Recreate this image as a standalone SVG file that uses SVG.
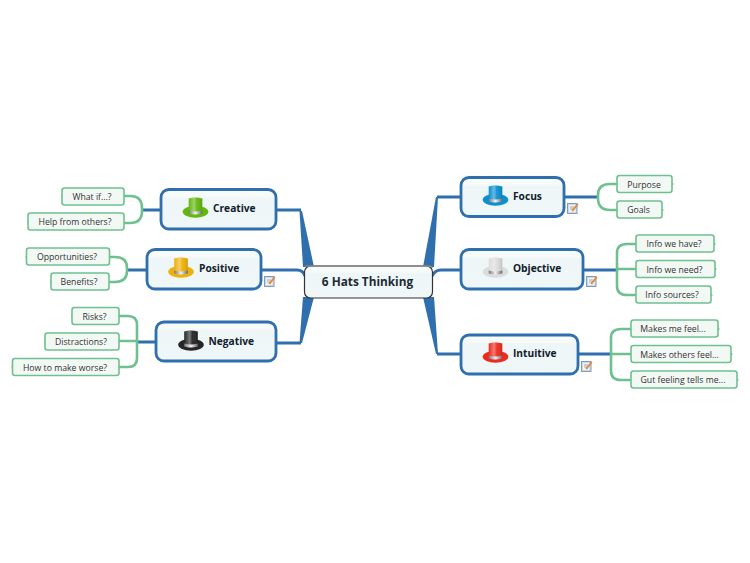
<svg xmlns="http://www.w3.org/2000/svg" width="750" height="563" viewBox="0 0 750 563">
<style>
text{font-family:"Open Sans","Noto Sans","DejaVu Sans",sans-serif;text-anchor:middle}
.leaf rect{fill:#f2f8f4;stroke:#6fc08f;stroke-width:1.6}
.leaf text{font-size:8.7px;fill:#333}
.topic>rect{fill:url(#bg);stroke:#2f6fad;stroke-width:2.8}
.topic text{font-size:10.2px;font-weight:700;fill:#10202c;text-anchor:start}
.blue{fill:none;stroke:#2f6fad;stroke-width:3}
.green{fill:none;stroke:#6fc08f;stroke-width:2.6}
.tick{fill:none;stroke:#6fc08f;stroke-width:1.4}
.wedge{fill:#2f6fad}
</style>
<defs>
<linearGradient id="bg" x1="0" y1="0" x2="0" y2="1"><stop offset="0" stop-color="#f8fbfa"/><stop offset="0.2" stop-color="#f5faf8"/><stop offset="0.22" stop-color="#eef6f7"/><stop offset="1" stop-color="#eff7f8"/></linearGradient>
<linearGradient id="band" x1="0" y1="0" x2="1" y2="0"><stop offset="0" stop-color="#777"/><stop offset="0.5" stop-color="#f2f2f2"/><stop offset="1" stop-color="#666"/></linearGradient>
<linearGradient id="shine" x1="0" y1="0" x2="1" y2="0"><stop offset="0" stop-color="#fff" stop-opacity="0"/><stop offset="0.4" stop-color="#fff" stop-opacity=".38"/><stop offset="0.6" stop-color="#fff" stop-opacity=".05"/><stop offset="1" stop-color="#000" stop-opacity=".12"/></linearGradient>
<g id="hatshape">
<ellipse cx="0" cy="3.8" rx="12.8" ry="6"/>
<path d="M-6.8 -9.5Q0 -11.5 6.8 -9.5V5.5Q0 7.5 -6.8 5.5Z"/>
<path d="M-6.8 -9.5Q0 -11.5 6.8 -9.5V5.5Q0 7.5 -6.8 5.5Z" fill="url(#shine)"/>
<path d="M-6.8 2.5Q0 4.5 6.8 2.5V5.5Q0 7.5 -6.8 5.5Z" fill="url(#band)"/>
</g>
<g id="note">
<rect x="0.5" y="1.5" width="9.500" height="10" fill="#c9d9ec" stroke="#7f9cc0"/>
<rect x="2" y="3" width="6.500" height="7" fill="#f3f3f0"/>
<path d="M3 5H7M3 7H6" stroke="#8a8a8a" stroke-width=".7"/>
<path d="M4.500 8.500L10 1.500L11.500 2.500L6 9.500Z" fill="#e0883a"/>
</g>
</defs>
<g id="connectors">
<path class="wedge" d="M299.500 211H302L314 267H303Z"/>
<path class="wedge" d="M299.500 343H302L314 297H303Z"/>
<path class="wedge" d="M434 267H423L436 197H438Z"/>
<path class="wedge" d="M434 297H423L436 354H438Z"/>
<path class="blue" d="M276 210H301M261 270H297Q303 270 305 276M276 343H301M564 197H437M583 270H441Q435 270 432 276M578 354H437"/>
<path class="blue" d="M141 210H161M128 270H147M136 342H156M564 197H598M583 270H618M578 354H612"/>
<path class="green" d="M124 196H130Q142 196 142 208V211Q142 223 130 223H124"/>
<path class="green" d="M109 257H115Q127 257 127 268V271Q127 282 115 282H109"/>
<path class="green" d="M119 316H128Q137 316 137 325V358Q137 367 128 367H119M119 341H137"/>
<path class="green" d="M617 184H610Q598 184 598 195V198Q598 210 610 210H617"/>
<path class="green" d="M636 244H627Q617 244 617 253V286Q617 295 627 295H636M617 269H636"/>
<path class="green" d="M631 329H621Q611 329 611 338V371Q611 380 621 380H631M611 354H631"/>
<path class="tick" d="M61 196.500H62M27 222H28M25.500 257H26.500M50 282H51M71 316H72M44 342H45M11.500 367H12.500M672 184H673.500M662 210H663.500M714 244H715.500M715 269H716.500M711 295H712.500M718 329H719.500M731 354H732.500M737 380H738.500"/>
</g>
<g id="root"><rect x="304.500" y="266" width="128" height="32" rx="6" fill="url(#bg)" stroke="#333" stroke-width="1.2"/><path d="M305 266.500Q305 266 310 266H427Q432 266 432 268" fill="none" stroke="#8c8c8c" stroke-width="1.5"/><text x="367.500" y="285.500" style="font-size:11.8px;font-weight:700;fill:#1c2a33">6 Hats Thinking</text></g>
<g id="creative" class="topic"><rect x="161" y="189.500" width="115" height="39.500" rx="8"/><use href="#hatshape" x="195.500" y="208" fill="#62b80c"/><text x="213" y="212">Creative</text></g>
<g id="positive" class="topic"><rect x="147" y="249.500" width="114" height="39.500" rx="8"/><use href="#hatshape" x="181" y="268" fill="#eeb00a"/><text x="199" y="272">Positive</text><use href="#note" x="264" y="275"/></g>
<g id="negative" class="topic"><rect x="156" y="322" width="120" height="39" rx="8"/><use href="#hatshape" x="191" y="341" fill="#262626"/><text x="208.500" y="345">Negative</text></g>
<g id="focus" class="topic"><rect x="461" y="177.500" width="103" height="39" rx="8"/><use href="#hatshape" x="495.500" y="196" fill="#0b8fd0"/><text x="513" y="200">Focus</text><use href="#note" x="567" y="202"/></g>
<g id="objective" class="topic"><rect x="461" y="249.500" width="122" height="39.500" rx="8"/><use href="#hatshape" x="495.500" y="268" fill="#dcdcdc"/><text x="513" y="272">Objective</text><use href="#note" x="586" y="275"/></g>
<g id="intuitive" class="topic"><rect x="461" y="335" width="117" height="39" rx="8"/><use href="#hatshape" x="495.500" y="353" fill="#ee2a1e"/><text x="513" y="357">Intuitive</text><use href="#note" x="581" y="360"/></g>
<g id="l1" class="leaf"><rect x="62" y="188" width="62" height="17" rx="2.500"/><text x="92" y="200">What if...?</text></g>
<g id="l2" class="leaf"><rect x="28" y="213" width="96" height="17" rx="2.500"/><text x="75" y="225">Help from others?</text></g>
<g id="l3" class="leaf"><rect x="26.500" y="248" width="83" height="17" rx="2.500"/><text x="67" y="260">Opportunities?</text></g>
<g id="l4" class="leaf"><rect x="51" y="273" width="58" height="17" rx="2.500"/><text x="79" y="285">Benefits?</text></g>
<g id="l5" class="leaf"><rect x="72" y="307.500" width="47" height="17" rx="2.500"/><text x="94.500" y="319.500">Risks?</text></g>
<g id="l6" class="leaf"><rect x="45" y="333" width="74" height="17" rx="2.500"/><text x="81" y="345">Distractions?</text></g>
<g id="l7" class="leaf"><rect x="12.500" y="358.500" width="106.500" height="17" rx="2.500"/><text x="65" y="370.500">How to make worse?</text></g>
<g id="l8" class="leaf"><rect x="617" y="175.500" width="55" height="17" rx="2.500"/><text x="644" y="187.500">Purpose</text></g>
<g id="l9" class="leaf"><rect x="617" y="201" width="45" height="17" rx="2.500"/><text x="638.500" y="213">Goals</text></g>
<g id="l10" class="leaf"><rect x="636" y="235" width="78" height="17" rx="2.500"/><text x="674" y="247">Info we have?</text></g>
<g id="l11" class="leaf"><rect x="636" y="260.500" width="79" height="17" rx="2.500"/><text x="674.500" y="272.500">Info we need?</text></g>
<g id="l12" class="leaf"><rect x="636" y="286" width="75" height="17" rx="2.500"/><text x="672" y="298">Info sources?</text></g>
<g id="l13" class="leaf"><rect x="631" y="320" width="87" height="17" rx="2.500"/><text x="673" y="332">Makes me feel...</text></g>
<g id="l14" class="leaf"><rect x="631" y="345.500" width="100" height="17" rx="2.500"/><text x="679.500" y="357.500">Makes others feel...</text></g>
<g id="l15" class="leaf"><rect x="631" y="371" width="106" height="17" rx="2.500"/><text x="683" y="383">Gut feeling tells me...</text></g>
</svg>
